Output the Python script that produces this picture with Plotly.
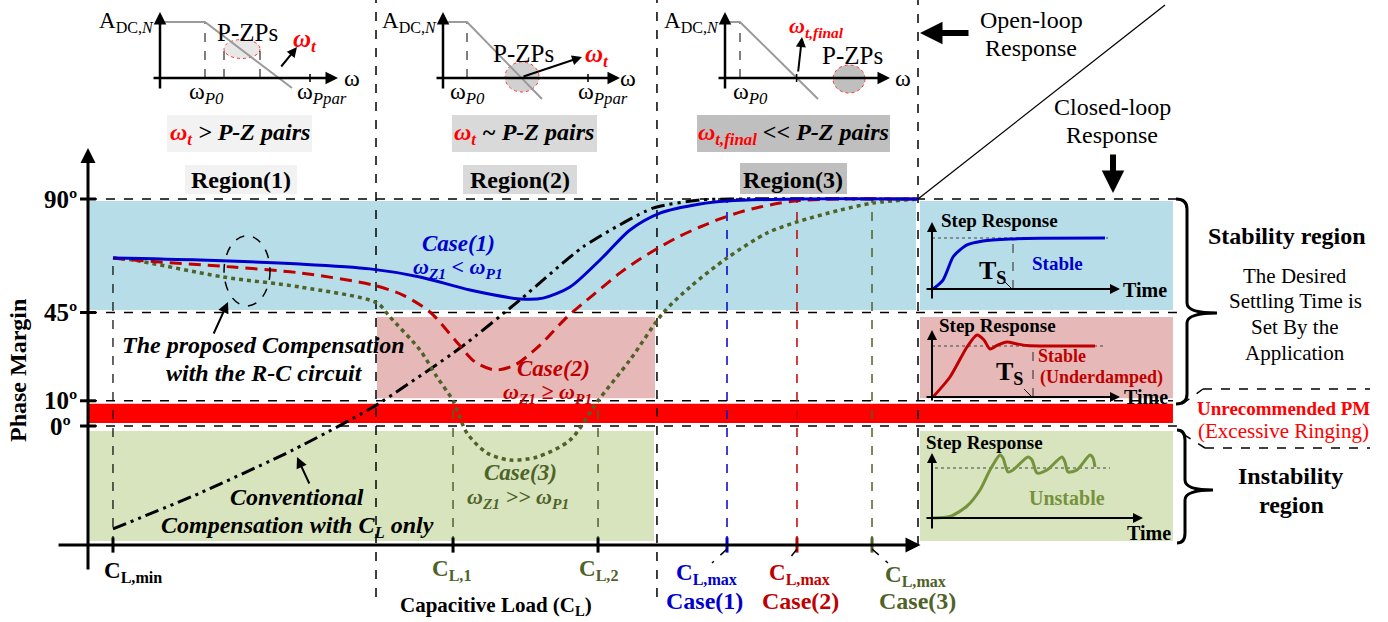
import plotly.graph_objects as go

W, H = 1388, 622
SERIF = "Liberation Serif, Times New Roman, serif"
BLUE, RED, OLIVE = "#0000cc", "#c00000", "#4f6228"

# ---------------- phase margin vs. capacitive load ----------------
# C_L in normalised units (0 = PM axis, 100 = end of the C_L axis), PM in degrees
cl_conv = [3.01, 13.49, 24.70, 34.34, 44.82, 52.05, 59.64, 68.07, 73.73, 77.35, 100.0]
pm_conv = [-40.8, -26.6, -9.5, 7.5, 30.9, 50.0, 71.0, 86.4, 89.6, 90.0, 90.0]

cl_case1 = [3.01, 13.49, 25.54, 33.98, 40.00, 46.02, 52.05, 54.82, 58.07, 62.05,
            65.30, 68.92, 73.73, 76.99, 85.42, 100.0]
pm_case1 = [66.6, 65.8, 64.2, 62.3, 59.1, 53.9, 50.4, 50.7, 55.1, 67.0,
            77.7, 84.4, 88.0, 89.2, 90.0, 90.0]

cl_case2 = [3.01, 5.42, 17.47, 25.54, 34.34, 37.95, 41.20, 44.22, 46.63, 49.04,
            51.45, 54.46, 57.71, 60.84, 64.10, 66.51, 68.92, 71.33, 73.73, 76.14,
            78.55, 80.96, 83.37, 85.78, 90.60, 100.0]
pm_case2 = [66.6, 65.8, 63.0, 60.7, 55.9, 51.9, 45.2, 34.1, 25.4, 22.2,
            24.2, 32.1, 43.2, 51.9, 60.7, 66.2, 71.0, 75.3, 78.9, 82.1,
            84.8, 86.8, 88.4, 89.4, 90.0, 90.0]

cl_case3 = [3.01, 5.42, 16.27, 25.54, 34.82, 36.39, 40.00, 42.05, 43.98, 45.66,
            48.07, 50.84, 54.10, 58.07, 61.45, 65.30, 69.28, 72.53, 76.99, 81.81,
            85.42, 90.60, 94.58, 100.0]
pm_case3 = [66.6, 65.8, 59.1, 55.1, 48.8, 43.2, 30.1, 19.4, 10.0, -2.8,
            -10.7, -13.5, -12.3, -5.6, 10.0, 26.2, 44.8, 55.1, 66.6, 76.5,
            80.9, 85.6, 88.4, 90.0]

# markers on the C_L axis
cl_min = 3.01
cl_1 = 43.98
cl_2 = 61.45
cl_max_case1 = 76.99
cl_max_case2 = 85.42
cl_max_case3 = 94.46
cl_region_edges = [34.70, 68.55, 100.0]

pm_ticks = [90, 45, 10, 0]
pm_tick_text = ["90º", "45º", "10º", "0º"]
pm_axis_level = -47.2
pm_curve_start = 66.6

# ---------------- open-loop magnitude sketches (log ω, log |A|) ----------------
bode1_w = [0, 2.25, 6.6]
bode1_a = [2.8, 2.8, -0.5]
bode2_w = [0, 1.2, 4.95]
bode2_a = [2.8, 2.8, -1.05]
bode3_w = [0, 0.75, 4.65]
bode3_a = [2.8, 2.8, -1.05]

# ---------------- step responses (time, normalised output) ----------------
step1_t = [0.05, 0.55, 1.05, 1.4, 1.75, 2.55, 3.9, 5.4, 8.65]
step1_y = [0.0, 0.176, 0.627, 0.765, 0.863, 0.941, 0.98, 0.994, 1.0]
step1_ts = 4.05

step2_t = [0.05, 0.9, 1.75, 2.25, 2.6, 2.9, 3.3, 3.75, 4.25, 4.75, 5.9, 8.15]
step2_y = [0.0, 0.392, 0.98, 1.216, 1.118, 0.941, 1.02, 1.078, 1.04, 1.01, 1.0, 1.0]
step2_ts = 5.05

step3_t = [0.05, 0.9, 1.73, 2.4, 2.9, 3.4, 3.55, 3.8, 4.05, 4.8, 5.0, 5.25, 5.75,
           6.5, 6.65, 6.8, 7.25, 7.9, 8.05, 8.15]
step3_y = [0.0, 0.03, 0.23, 0.56, 0.96, 1.26, 1.2, 0.92, 0.96, 1.22, 1.16, 0.9, 0.96,
           1.22, 1.12, 0.92, 0.96, 1.26, 1.2, 1.02]


def X(p):
    return p / W


def Y(p):
    return 1 - p / H


def dom_x(a, b):
    return [X(a), X(b)]


def dom_y(top, bot):
    return [Y(bot), Y(top)]


fig = go.Figure()
ann = []
shp = []


def text(x, y, s, size=18, color="black", xanchor="center", angle=0):
    ann.append(dict(xref="paper", yref="paper", x=X(x), y=Y(y), text=s, showarrow=False,
                    xanchor=xanchor, yanchor="middle", textangle=angle,
                    font=dict(family=SERIF, size=size, color=color)))


def parrow(x0, y0, x1, y1, width=2, size=1.0, head=2, color="black"):
    ann.append(dict(xref="paper", yref="paper", x=X(x1), y=Y(y1), axref="pixel", ayref="pixel",
                    ax=x0 - x1, ay=y0 - y1, text="", showarrow=True, arrowhead=head,
                    arrowsize=size, arrowwidth=width, arrowcolor=color))


def darrow(xr, yr, x0, y0, x1, y1, width=2, size=1.0, head=2, color="black"):
    ann.append(dict(xref=xr, yref=yr, axref=xr, ayref=yr, x=x1, y=y1, ax=x0, ay=y0,
                    text="", showarrow=True, arrowhead=head, arrowsize=size,
                    arrowwidth=width, arrowcolor=color))


def seg(xr, yr, x0, y0, x1, y1, color="black", width=1.5, dash="dash", layer="below"):
    shp.append(dict(type="line", xref=xr, yref=yr, x0=x0, y0=y0, x1=x1, y1=y1, layer=layer,
                    line=dict(color=color, width=width, dash=dash)))


def pseg(x0, y0, x1, y1, color="black", width=1.5, dash="dash"):
    seg("paper", "paper", X(x0), Y(y0), X(x1), Y(y1), color, width, dash, "above")


def rect(xr, yr, x0, y0, x1, y1, fill):
    shp.append(dict(type="rect", xref=xr, yref=yr, x0=x0, y0=y0, x1=x1, y1=y1,
                    fillcolor=fill, line=dict(width=0), layer="below"))


def prect(x0, y0, x1, y1, fill):
    rect("paper", "paper", X(x0), Y(y1), X(x1), Y(y0), fill)


# ---------------- stability bands ----------------
rect("x", "y", 0.12, 46.0, 99.76, 89.2, "#b7dde8")
rect("x", "y", 100.24, 46.0, 130.72, 89.2, "#b7dde8")
rect("x", "y", 34.82, 11.0, 68.31, 43.2, "#e6b9b8")
rect("x", "y", 100.24, 11.0, 130.72, 43.2, "#e6b9b8")
rect("x", "y", 0.0, 1.2, 130.72, 8.8, "#ff0000")
rect("x", "y", 0.12, -45.6, 68.19, -2.0, "#d7e4bd")
rect("x", "y", 100.24, -45.6, 130.72, -2.0, "#d7e4bd")

# band boundaries
seg("x", "y", 0, 90, 131.93, 90)
seg("x", "y", 0, 45, 131.2, 45)
seg("x", "y", 0, 10, 130.72, 10)
seg("x", "y", 0, 0, 131.2, 0)
seg("x", "y", cl_region_edges[0], -67.8, cl_region_edges[0], 168.9)
seg("x", "y", cl_region_edges[1], -67.8, cl_region_edges[1], 168.9)
seg("x", "y", cl_region_edges[2], pm_axis_level, cl_region_edges[2], 168.9)

# guide lines down to the C_L axis
seg("x", "y", cl_min, pm_axis_level, cl_min, pm_curve_start, "black", 1.2)
seg("x", "y", cl_1, pm_axis_level, cl_1, 10, OLIVE, 1.5)
seg("x", "y", cl_2, pm_axis_level, cl_2, 10, OLIVE, 1.5)
seg("x", "y", cl_max_case1, pm_axis_level, cl_max_case1, 90, BLUE, 1.5)
seg("x", "y", cl_max_case2, pm_axis_level, cl_max_case2, 90, RED, 1.5)
seg("x", "y", cl_max_case3, pm_axis_level, cl_max_case3, 90, OLIVE, 1.5)

# open-loop / closed-loop divider
seg("x", "y", 100, 90, 129.76, 166.9, "black", 1.3, "solid")

# axis ticks
for v in pm_ticks:
    seg("x", "y", -0.96, v, 0.96, v, "black", 3, "solid", "above")
for v, c in [(cl_min, "black"), (cl_1, "black"), (cl_2, "black"),
             (cl_max_case1, BLUE), (cl_max_case2, RED), (cl_max_case3, OLIVE)]:
    seg("x", "y", v, pm_axis_level - 3.0, v, pm_axis_level + 3.0, c, 3, "solid", "above")

# dashed ellipse around the proposed-compensation curves
shp.append(dict(type="circle", xref="x", yref="y", x0=16.39, x1=21.93, y0=47.6, y1=75.4,
                line=dict(color="black", width=1.5, dash="dash"), layer="above"))

# main axes
darrow("x", "y", 0, -57.5, 0, 110.2, width=3, size=1.0)
darrow("x", "y", -3.73, pm_axis_level, 100.3, pm_axis_level, width=3, size=1.0)

# curves
fig.add_trace(go.Scatter(x=cl_conv, y=pm_conv, mode="lines", hoverinfo="skip",
                         line=dict(color="black", width=3, shape="spline", smoothing=0.6,
                                   dash="14px,5px,3px,5px,3px,5px")))
fig.add_trace(go.Scatter(x=cl_case3, y=pm_case3, mode="lines", hoverinfo="skip",
                         line=dict(color=OLIVE, width=3.5, shape="spline", smoothing=0.8,
                                   dash="4px,4px")))
fig.add_trace(go.Scatter(x=cl_case2, y=pm_case2, mode="lines", hoverinfo="skip",
                         line=dict(color=RED, width=3, shape="spline", smoothing=0.8,
                                   dash="12px,7px")))
fig.add_trace(go.Scatter(x=cl_case1, y=pm_case1, mode="lines", hoverinfo="skip",
                         line=dict(color=BLUE, width=3, shape="spline", smoothing=0.8)))

# PM tick labels
for v, t in zip(pm_ticks, pm_tick_text):
    ann.append(dict(xref="x", yref="y", x=-3.3, y=v, text="<b>%s</b>" % t, showarrow=False,
                    xanchor="center", yanchor="middle",
                    font=dict(family=SERIF, size=25, color="black")))

text(18, 371, "<b>Phase Margin</b>", 24, angle=-90)

# C_L labels
text(133, 572, "<b>C<sub>L,min</sub></b>", 23)
text(451, 570, "<b>C<sub>L,1</sub></b>", 23, OLIVE)
text(598, 570, "<b>C<sub>L,2</sub></b>", 23, OLIVE)
text(706, 574, "<b>C<sub>L,max</sub></b>", 23, BLUE)
text(704, 601, "<b>Case(1)</b>", 24, BLUE)
text(799, 574, "<b>C<sub>L,max</sub></b>", 23, RED)
text(800, 601, "<b>Case(2)</b>", 24, RED)
text(915, 576, "<b>C<sub>L,max</sub></b>", 23, OLIVE)
text(917, 601, "<b>Case(3)</b>", 24, OLIVE)
text(496, 606, "<b>Capacitive Load (C<sub>L</sub>)</b>", 21)
pseg(727, 549, 712, 563)
pseg(797, 549, 786, 563)
pseg(872, 549, 888, 563)

# case labels
text(458, 243, "<b><i>Case(1)</i></b>", 23, BLUE)
text(458, 268, "<b><i>ω<sub>Z1</sub> &lt; ω<sub>P1</sub></i></b>", 22, BLUE)
text(553, 368, "<b><i>Case(2)</i></b>", 23, RED)
text(547, 393, "<b><i>ω<sub>Z1</sub> ≥ ω<sub>P1</sub></i></b>", 22, RED)
text(520, 472, "<b><i>Case(3)</i></b>", 23, OLIVE)
text(518, 498, "<b><i>ω<sub>Z1</sub> &gt;&gt; ω<sub>P1</sub></i></b>", 22, OLIVE)

text(263, 345, "<b><i>The proposed Compensation</i></b>", 24)
text(264, 373, "<b><i>with the R-C circuit</i></b>", 24)
parrow(213, 335, 228, 302, width=2, size=1.1)
text(297, 497, "<b><i>Conventional</i></b>", 24)
text(297, 527, "<b><i>Compensation with C<sub>L</sub> only</i></b>", 24)
parrow(310, 485, 297, 457, width=2, size=1.1)

# ---------------- open-loop magnitude sketches ----------------
bode_dom_y = dom_y(5, 100)
insets = [
    ("x2", "y2", dom_x(140, 360), bode1_w, bode1_a),
    ("x3", "y3", dom_x(423, 643), bode2_w, bode2_a),
    ("x4", "y4", dom_x(705, 925), bode3_w, bode3_a),
]
for xr, yr, dx, w, a in insets:
    fig.add_trace(go.Scatter(x=w, y=a, xaxis=xr, yaxis=yr, mode="lines", hoverinfo="skip",
                             line=dict(color="#9a9a9a", width=2)))

# pole-zero clusters
shp.append(dict(type="circle", xref="x2", yref="y2", x0=3.2, x1=5.0, y0=0.975, y1=1.925,
                fillcolor="#e8e8e8", line=dict(color="#ff3333", width=1, dash="dot"), layer="below"))
shp.append(dict(type="circle", xref="x3", yref="y3", x0=3.1, x1=4.8, y0=-0.7, y1=0.8,
                fillcolor="rgba(190,190,190,0.7)", line=dict(color="#ff3333", width=1, dash="dot"),
                layer="below"))
shp.append(dict(type="circle", xref="x4", yref="y4", x0=5.4, x1=7.0, y0=-0.75, y1=0.65,
                fillcolor="#bfbfbf", line=dict(color="#ff3333", width=1, dash="dot"), layer="below"))

seg("x2", "y2", 2.25, 0, 2.25, 2.8, "black", 1)
seg("x2", "y2", 3.2, 0, 3.2, 1.45, "black", 1)
seg("x2", "y2", 5.0, 0, 5.0, 1.45, "black", 1)
seg("x2", "y2", 7.5, -0.2, 7.5, 0.2, "black", 1.5, "solid", "above")
seg("x3", "y3", 1.2, 0, 1.2, 2.8, "black", 1)
seg("x3", "y3", 7.25, -0.2, 7.25, 0.2, "black", 1.5, "solid", "above")
seg("x4", "y4", 0.75, 0, 0.75, 2.8, "black", 1)
seg("x4", "y4", 3.58, -0.2, 3.58, 0.2, "black", 1.5, "solid", "above")

for xr, yr, tip in [("x2", "y2", 8.9), ("x3", "y3", 8.85), ("x4", "y4", 8.25)]:
    darrow(xr, yr, 0, -0.6, 0, 3.3, width=2.5, size=1.0)
    darrow(xr, yr, -0.4, 0, tip, 0, width=2.5, size=1.0)
darrow("x2", "y2", 6.0, 0.5, 6.85, 1.55, width=2, size=1.0)
darrow("x3", "y3", 3.95, 0.05, 6.95, 1.05, width=2, size=1.0)
darrow("x4", "y4", 3.65, 0.25, 3.85, 2.05, width=2, size=1.0)

A_LABEL = "A<sub>DC,<i>N</i></sub>"
W_T = "<span style='color:#ff0000'>ω<sub>t</sub></span>"
W_TF = "<span style='color:#ff0000'>ω<sub>t,final</sub></span>"

text(156, 22, A_LABEL, 23, xanchor="right")
text(352, 78, "ω", 24)
text(206, 93, "ω<sub><i>P0</i></sub>", 24)
text(322, 93, "ω<sub><i>Ppar</i></sub>", 24)
text(247, 32, "P-ZPs", 25)
text(305, 40, "<b><i>%s</i></b>" % W_T, 25)
prect(167, 115, 312, 152, "#f2f2f2")
text(240, 134, "<b><i>%s &gt; P-Z pairs</i></b>" % W_T, 24)
prect(185, 165, 297, 194, "#f2f2f2")
text(241, 180, "<b>Region(1)</b>", 24)

text(439, 22, A_LABEL, 23, xanchor="right")
text(628, 78, "ω", 24)
text(467, 93, "ω<sub><i>P0</i></sub>", 24)
text(603, 93, "ω<sub><i>Ppar</i></sub>", 24)
text(523, 53, "P-ZPs", 25)
text(597, 55, "<b><i>%s</i></b>" % W_T, 25)
prect(452, 115, 597, 152, "#d9d9d9")
text(524, 134, "<b><i>%s ~ P-Z pairs</i></b>" % W_T, 24)
prect(463, 165, 577, 194, "#d9d9d9")
text(520, 180, "<b>Region(2)</b>", 24)

text(721, 22, A_LABEL, 23, xanchor="right")
text(903, 78, "ω", 24)
text(750, 93, "ω<sub><i>P0</i></sub>", 24)
text(817, 27, "<b><i>%s</i></b>" % W_TF, 22)
text(853, 56, "P-ZPs", 25)
prect(697, 115, 890, 152, "#bfbfbf")
text(793, 134, "<b><i>%s &lt;&lt; P-Z pairs</i></b>" % W_TF, 24)
prect(740, 163, 847, 194, "#bfbfbf")
text(793, 180, "<b>Region(3)</b>", 24)

# open-loop / closed-loop captions
text(1031, 20, "Open-loop", 24)
text(1031, 48, "Response", 24)
parrow(970, 33, 920, 33, width=6, size=0.75)
text(1112, 107, "Closed-loop", 24)
text(1112, 135, "Response", 24)
parrow(1113, 153, 1113, 193, width=6, size=0.75)

# ---------------- step responses ----------------
step_dom_x = dom_x(920, 1173)
panels = [
    ("x5", "y5", dom_y(201, 310), [-0.412, 1.725], step1_t, step1_y, BLUE),
    ("x6", "y6", dom_y(316, 404), [-0.137, 1.588], step2_t, step2_y, "#c00000"),
    ("x7", "y7", dom_y(430, 540), [-0.44, 1.76], step3_t, step3_y, "#76923c"),
]
for xr, yr, dy, yrange, t, y, c in panels:
    fig.add_trace(go.Scatter(x=t, y=y, xaxis=xr, yaxis=yr, mode="lines", hoverinfo="skip",
                             line=dict(color=c, width=3, shape="spline", smoothing=0.7)))

seg("x5", "y5", 0, 1, 8.8, 1, "#444444", 1.2, "dot")
seg("x5", "y5", step1_ts, 0, step1_ts, 1, "#444444", 1.2, "dash")
seg("x6", "y6", 0, 1, 8.55, 1, "#444444", 1.2, "dot")
seg("x6", "y6", step2_ts, 0, step2_ts, 1, "#444444", 1.2, "dash")
seg("x7", "y7", 0.15, 1, 8.9, 1, "#444444", 1.2, "dot")

darrow("x5", "y5", 0, -0.216, 0, 1.314, width=2, size=1.0)
darrow("x5", "y5", -0.35, 0, 9.4, 0, width=2, size=1.0)
darrow("x6", "y6", 0, -0.1, 0, 1.314, width=2, size=1.0)
darrow("x6", "y6", -0.35, 0, 9.4, 0, width=2, size=1.0)
darrow("x7", "y7", 0, -0.24, 0, 1.3, width=2, size=1.0)
darrow("x7", "y7", -0.35, 0, 10.55, 0, width=2, size=1.0)

text(999, 220, "<b>Step Response</b>", 19)
text(1057, 263, "<b>Stable</b>", 19, BLUE)
text(1145, 290, "<b>Time</b>", 20)
text(992, 272, "<b>T<sub>S</sub></b>", 26)
pseg(1005, 282, 1012, 289, "black", 1, "solid")

text(997, 325, "<b>Step Response</b>", 19)
text(1062, 356, "<b>Stable</b>", 18, RED)
text(1101, 377, "<b>(Underdamped)</b>", 18, RED)
text(1146, 397, "<b>Time</b>", 20)
text(1009, 373, "<b>T<sub>S</sub></b>", 26)
pseg(1024, 389, 1031, 396, "black", 1, "solid")

text(985, 442, "<b>Step Response</b>", 19)
text(1067, 498, "<b>Unstable</b>", 20, "#76923c")
text(1149, 533, "<b>Time</b>", 20)

# ---------------- right-hand captions ----------------
def brace(x0, ytop, ybot, xs, xt, ym, r=10):
    return ("M %f,%f Q %f,%f %f,%f L %f,%f Q %f,%f %f,%f Q %f,%f %f,%f L %f,%f Q %f,%f %f,%f" % (
        X(x0), Y(ytop), X(xs), Y(ytop), X(xs), Y(ytop + r), X(xs), Y(ym - r),
        X(xs), Y(ym), X(xt), Y(ym), X(xs), Y(ym), X(xs), Y(ym + r),
        X(xs), Y(ybot - r), X(xs), Y(ybot), X(x0), Y(ybot)))


shp.append(dict(type="path", xref="paper", yref="paper", layer="above",
                path=brace(1176, 199, 404, 1187, 1217, 313), line=dict(color="black", width=3)))
shp.append(dict(type="path", xref="paper", yref="paper", layer="above",
                path=brace(1177, 430, 543, 1185, 1213, 490), line=dict(color="black", width=3)))

text(1287, 236, "<b>Stability region</b>", 24)
text(1295, 276, "The Desired", 21)
text(1295, 301, "Settling Time is", 21)
text(1295, 327, "Set By the", 21)
text(1295, 353, "Application", 21)
pseg(1182, 404, 1203, 389)
pseg(1203, 389, 1370, 389)
text(1283, 408, "<b>Unrecommended PM</b>", 19, "#ff0000")
text(1283, 431, "(Excessive Ringing)", 21, "#ff0000")
pseg(1183, 434, 1205, 448)
pseg(1205, 448, 1370, 448)
text(1290, 476, "<b>Instability</b>", 24)
text(1291, 505, "<b>region</b>", 24)

# ---------------- layout ----------------
hidden = dict(visible=False, fixedrange=True)
layout = dict(
    width=W, height=H, margin=dict(l=0, r=0, t=0, b=0),
    paper_bgcolor="white", plot_bgcolor="rgba(0,0,0,0)", showlegend=False,
    xaxis=dict(hidden, domain=[0, 1], range=[-10.602, 156.627]),
    yaxis=dict(hidden, domain=[0, 1], range=[-77.71, 168.90]),
    annotations=ann, shapes=shp,
)
for i, (xr, yr, dx, w, a) in enumerate(insets):
    n = i + 2
    layout["xaxis%d" % n] = dict(hidden, domain=dx, range=[-1, 10], anchor="y%d" % n)
    layout["yaxis%d" % n] = dict(hidden, domain=bode_dom_y, range=[-1.1, 3.65], anchor="x%d" % n)
for i, (xr, yr, dy, yrange, t, y, c) in enumerate(panels):
    n = i + 5
    layout["xaxis%d" % n] = dict(hidden, domain=step_dom_x, range=[-0.6, 12.05], anchor="y%d" % n)
    layout["yaxis%d" % n] = dict(hidden, domain=dy, range=yrange, anchor="x%d" % n)

fig.update_layout(**layout)
fig.write_html("out.html", config={"displayModeBar": False},
               post_script="document.body.style.margin='0';")
